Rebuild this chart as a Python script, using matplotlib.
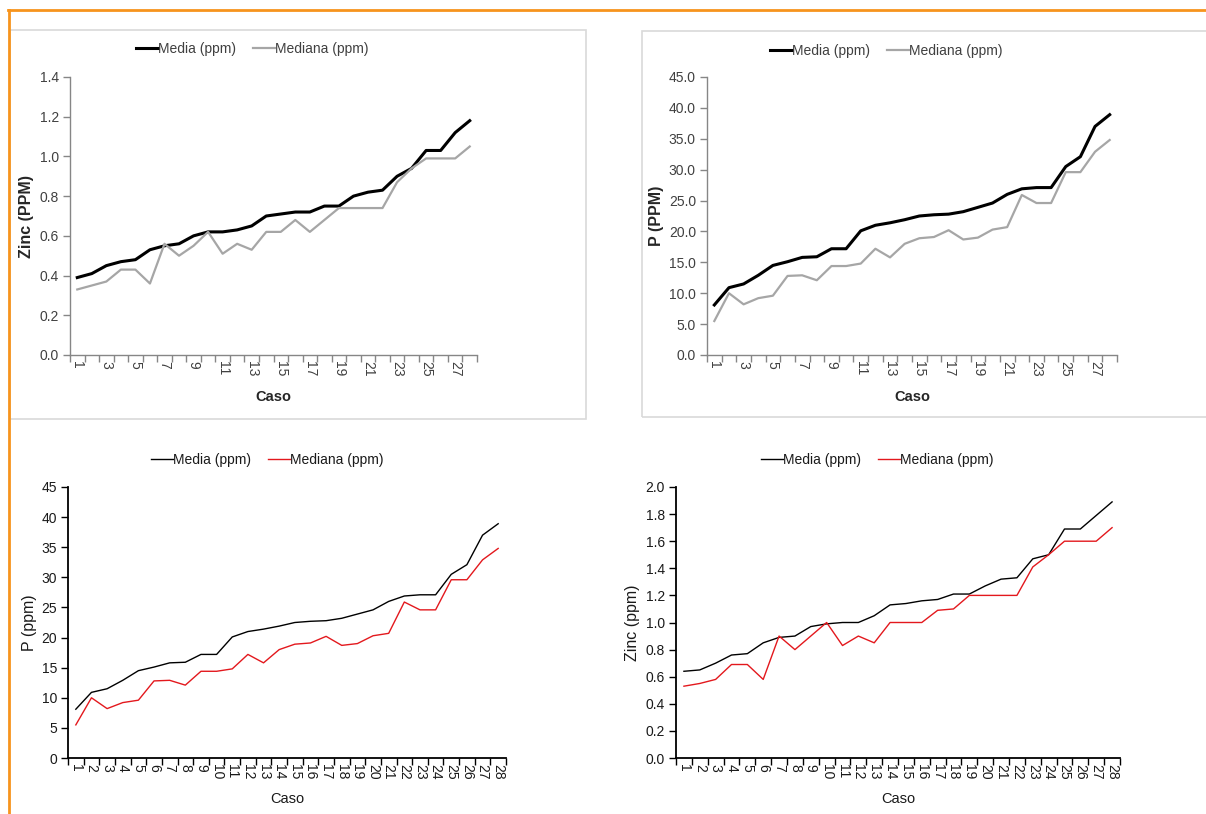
import numpy as np
import matplotlib
matplotlib.use('Agg')
import matplotlib.pyplot as plt
from matplotlib.lines import Line2D
from matplotlib.patches import Rectangle
from matplotlib.ticker import FormatStrFormatter

plt.rcParams['font.family'] = ['Liberation Sans', 'DejaVu Sans']

# --- data ---
casos = list(range(1, 29))

zinc_media_a = [0.39, 0.41, 0.45, 0.47, 0.48, 0.53, 0.55, 0.56, 0.60, 0.62,
                0.62, 0.63, 0.65, 0.70, 0.71, 0.72, 0.72, 0.75, 0.75, 0.80,
                0.82, 0.83, 0.90, 0.94, 1.03, 1.03, 1.12, 1.18]
zinc_mediana_a = [0.33, 0.35, 0.37, 0.43, 0.43, 0.36, 0.56, 0.50, 0.55, 0.62,
                  0.51, 0.56, 0.53, 0.62, 0.62, 0.68, 0.62, 0.68, 0.74, 0.74,
                  0.74, 0.74, 0.87, 0.94, 0.99, 0.99, 0.99, 1.05]

p_media = [8.1, 10.9, 11.5, 12.9, 14.5, 15.1, 15.8, 15.9, 17.2, 17.2,
           20.1, 21.0, 21.4, 21.9, 22.5, 22.7, 22.8, 23.2, 23.9, 24.6,
           26.0, 26.9, 27.1, 27.1, 30.5, 32.1, 37.0, 38.9]
p_mediana = [5.5, 10.0, 8.2, 9.2, 9.6, 12.8, 12.9, 12.1, 14.4, 14.4,
             14.8, 17.2, 15.8, 18.0, 18.9, 19.1, 20.2, 18.7, 19.0, 20.3,
             20.7, 25.9, 24.6, 24.6, 29.6, 29.6, 32.9, 34.8]

zinc_media_b = [0.64, 0.65, 0.70, 0.76, 0.77, 0.85, 0.89, 0.90, 0.97, 0.99,
                1.00, 1.00, 1.05, 1.13, 1.14, 1.16, 1.17, 1.21, 1.21, 1.27,
                1.32, 1.33, 1.47, 1.50, 1.69, 1.69, 1.79, 1.89]
zinc_mediana_b = [0.53, 0.55, 0.58, 0.69, 0.69, 0.58, 0.90, 0.80, 0.90, 1.00,
                  0.83, 0.90, 0.85, 1.00, 1.00, 1.00, 1.09, 1.10, 1.20, 1.20,
                  1.20, 1.20, 1.41, 1.50, 1.60, 1.60, 1.60, 1.70]

W, H = 1206, 814
fig = plt.figure(figsize=(W / 100, H / 100), dpi=100)
fig.patch.set_facecolor('white')


def px_box(x0, y0, x1, y1):
    # pixel box (top-left origin) -> figure fraction rect
    return [x0 / W, 1 - y1 / H, (x1 - x0) / W, (y1 - y0) / H]


def panel(rect, media, mediana, ylabel, ymax, ystep, fmt, opts):
    ax = fig.add_axes(rect)
    ax.plot(casos, media, color='black', lw=opts['lw_media'],
            solid_joinstyle='round', label='Media (ppm)')
    ax.plot(casos, mediana, color=opts['c_mediana'], lw=opts['lw_mediana'],
            solid_joinstyle='round', label='Mediana (ppm)')

    ax.set_xlim(0.5, 28.5)
    ax.set_ylim(0, ymax)
    ax.set_yticks(np.arange(0, ymax + ystep / 2, ystep))
    ax.yaxis.set_major_formatter(FormatStrFormatter(fmt))

    # category axis: tick marks between categories, labels on categories
    ax.set_xticks(np.arange(0.5, 29, 1))
    ax.set_xticklabels([])
    ax.set_xticks(casos, minor=True)
    if opts['odd_only']:
        labels = [str(c) if c % 2 == 1 else '' for c in casos]
    else:
        labels = [str(c) for c in casos]
    ax.set_xticklabels(labels, minor=True, rotation=270)
    ax.tick_params(axis='x', which='minor', length=0, pad=4,
                   labelsize=10, labelcolor=opts['c_text'])
    ax.tick_params(axis='x', which='major', length=5, width=1,
                   color=opts['c_axis'], direction='out')
    ax.tick_params(axis='y', length=5, width=1, color=opts['c_axis'],
                   labelsize=10, labelcolor=opts['c_text'], pad=3)

    for s in ('top', 'right'):
        ax.spines[s].set_visible(False)
    for s in ('left', 'bottom'):
        ax.spines[s].set_color(opts['c_axis'])
        ax.spines[s].set_linewidth(opts['spine_w'])

    ax.set_ylabel(ylabel, fontsize=opts['ylab_size'], fontweight=opts['weight'],
                  color=opts['c_label'])
    ax.set_xlabel('Caso', fontsize=10.5, fontweight=opts['weight'],
                  color=opts['c_label'])
    ax.yaxis.set_label_coords(opts['ylab_x'], 0.5)
    ax.xaxis.set_label_coords(0.5, -0.125)

    ax.legend(loc='center', bbox_to_anchor=opts['leg'],
              bbox_transform=fig.transFigure, ncol=2, frameon=False,
              fontsize=10, handlelength=1.6, handletextpad=0.0,
              columnspacing=1.2, labelcolor=opts['c_text'])
    return ax


top_opts = {'lw_media': 2.2, 'lw_mediana': 1.6, 'c_mediana': '#a6a6a6',
            'c_axis': '#868686', 'c_text': '#404040', 'c_label': '#262626',
            'spine_w': 1.0, 'weight': 'bold', 'odd_only': True,
            'ylab_size': 11.5}
bot_opts = {'lw_media': 1.0, 'lw_mediana': 1.0, 'c_mediana': '#e3181d',
            'c_axis': 'black', 'c_text': '#1a1a1a', 'c_label': '#1a1a1a',
            'spine_w': 1.3, 'weight': 'normal', 'odd_only': False,
            'ylab_size': 11.5}

panel(px_box(70, 77, 477, 355), zinc_media_a, zinc_mediana_a,
      'Zinc (PPM)', 1.4, 0.2, '%.1f',
      dict(top_opts, ylab_x=-0.088, leg=(252 / W, 1 - 49 / H)))
panel(px_box(707, 77, 1117, 355), p_media, p_mediana,
      'P (PPM)', 45, 5, '%.1f',
      dict(top_opts, ylab_x=-0.105, leg=(886 / W, 1 - 51 / H)))
panel(px_box(68, 487, 506, 758), p_media, p_mediana,
      'P (ppm)', 45, 5, '%d',
      dict(bot_opts, ylab_x=-0.071, leg=(267 / W, 1 - 460 / H)))
panel(px_box(676, 487, 1120, 758), zinc_media_b, zinc_mediana_b,
      'Zinc (ppm)', 2.0, 0.2, '%.1f',
      dict(bot_opts, ylab_x=-0.081, leg=(877 / W, 1 - 460 / H)))

# chart frames of the two upper charts
for box in (px_box(10, 30, 586, 419), px_box(642, 31, 1212, 417)):
    fig.add_artist(Rectangle(box[:2], box[2], box[3], transform=fig.transFigure,
                             fill=False, edgecolor='#d9d9d9', lw=1.2))

# orange page border (top and left)
orange = '#f7941d'
fig.add_artist(Line2D([8 / W, 1], [1 - 10 / H, 1 - 10 / H],
                      transform=fig.transFigure, color=orange, lw=2))
fig.add_artist(Line2D([9 / W, 9 / W], [0, 1 - 10 / H],
                      transform=fig.transFigure, color=orange, lw=2))

fig.savefig('out.png', dpi=100)
